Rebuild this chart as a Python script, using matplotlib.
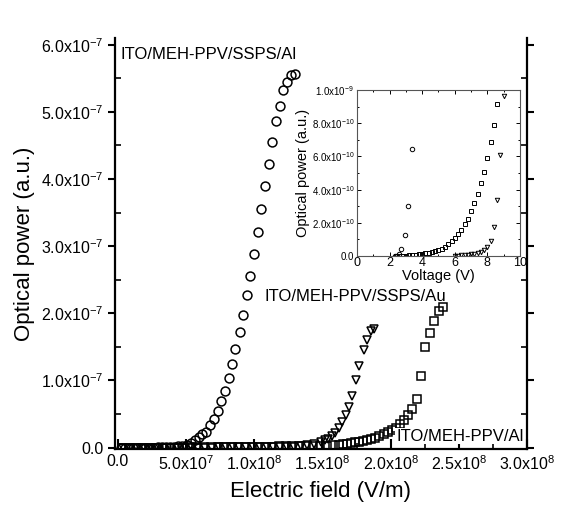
import numpy as np
import matplotlib
matplotlib.use("Agg")
import matplotlib.pyplot as plt
from matplotlib.ticker import MultipleLocator

plt.rcParams['font.family'] = ['Liberation Sans', 'DejaVu Sans']
plt.rcParams['mathtext.fontset'] = 'custom'
plt.rcParams['mathtext.rm'] = 'Liberation Sans'
plt.rcParams['mathtext.it'] = 'Liberation Sans'

# MAIN DATA: field in 1e8 V/m, power in 1e-7 a.u.
al_ssps_field = [0.02, 0.05, 0.08, 0.11, 0.14, 0.17, 0.20, 0.23, 0.26, 0.29, 0.32,
                 0.35, 0.38, 0.41, 0.44, 0.47, 0.503, 0.532, 0.564, 0.593, 0.617,
                 0.644, 0.673, 0.703, 0.732, 0.756, 0.783, 0.815, 0.837, 0.861,
                 0.893, 0.917, 0.944, 0.971, 0.998, 1.027, 1.052, 1.078, 1.105,
                 1.132, 1.161, 1.186, 1.210, 1.242, 1.271, 1.296]
al_ssps_power = [0.0, 0.0, 0.0, 0.0, 0.0, 0.0, 0.0, 0.0, 0.0, 0.005, 0.005,
                 0.005, 0.01, 0.01, 0.02, 0.03, 0.04, 0.07, 0.11, 0.16, 0.20,
                 0.24, 0.33, 0.43, 0.55, 0.69, 0.85, 1.04, 1.25, 1.47,
                 1.72, 1.98, 2.27, 2.56, 2.88, 3.21, 3.55, 3.89, 4.23,
                 4.55, 4.86, 5.09, 5.32, 5.44, 5.55, 5.56]

au_ssps_field = [0.04, 0.09, 0.14, 0.19, 0.24, 0.29, 0.34, 0.39, 0.44, 0.49, 0.54,
                 0.59, 0.64, 0.69, 0.74, 0.79, 0.84, 0.89, 0.94, 0.99, 1.04, 1.09,
                 1.14, 1.19, 1.24, 1.29, 1.34, 1.39, 1.44, 1.49, 1.515, 1.540,
                 1.569, 1.594, 1.618, 1.645, 1.669, 1.693, 1.720, 1.744, 1.771,
                 1.803, 1.828, 1.857, 1.881]
au_ssps_power = [0.0, 0.0, 0.0, 0.0, 0.0, 0.0, 0.0, 0.0, 0.0, 0.0, 0.0,
                 0.0, 0.0, 0.0, 0.005, 0.005, 0.005, 0.005, 0.005, 0.01, 0.01, 0.01,
                 0.01, 0.01, 0.01, 0.015, 0.025, 0.04, 0.06, 0.09, 0.11, 0.13,
                 0.17, 0.22, 0.29, 0.38, 0.48, 0.60, 0.77, 1.00, 1.22,
                 1.45, 1.61, 1.74, 1.77]

al_field = [0.03, 0.08, 0.13, 0.18, 0.23, 0.28, 0.33, 0.38, 0.43, 0.48, 0.53,
            0.58, 0.63, 0.68, 0.73, 0.78, 0.83, 0.88, 0.93, 0.98, 1.03, 1.08,
            1.13, 1.18, 1.23, 1.28, 1.33, 1.38, 1.43, 1.48, 1.53, 1.58, 1.62,
            1.65, 1.678, 1.708, 1.738, 1.767, 1.797, 1.828, 1.858, 1.888, 1.918,
            1.949, 1.980, 2.010, 2.041, 2.069, 2.100, 2.130, 2.157, 2.191, 2.223,
            2.255, 2.289, 2.320, 2.357, 2.386]
al_power = [0.0, 0.0, 0.0, 0.0, 0.0, 0.0, 0.0, 0.0, 0.0, 0.0, 0.005,
            0.005, 0.005, 0.005, 0.005, 0.01, 0.01, 0.01, 0.01, 0.01, 0.015, 0.015,
            0.015, 0.02, 0.02, 0.02, 0.02, 0.025, 0.025, 0.03, 0.03, 0.035, 0.04,
            0.055, 0.06, 0.07, 0.08, 0.09, 0.10, 0.12, 0.13, 0.15, 0.17,
            0.20, 0.23, 0.26, 0.30, 0.35, 0.41, 0.48, 0.58, 0.73, 1.07,
            1.50, 1.71, 1.88, 2.04, 2.09]

# INSET DATA: voltage in V, power in 1e-10 a.u.
in_al_ssps_v = [2.35, 2.45, 2.58, 2.7, 2.97, 3.15, 3.35]
in_al_ssps_p = [0.0, 0.02, 0.1, 0.45, 1.25, 3.04, 6.44]

in_al_v = [2.4, 2.6, 2.8, 3.0, 3.2, 3.4, 3.6, 3.8, 4.0, 4.2, 4.4, 4.6, 4.8, 5.0,
           5.2, 5.4, 5.6, 5.8, 6.0, 6.2, 6.4, 6.6, 6.8, 7.0, 7.2, 7.4, 7.6, 7.8,
           8.0, 8.2, 8.4, 8.6]
in_al_p = [0.0, 0.01, 0.02, 0.02, 0.04, 0.06, 0.08, 0.10, 0.12, 0.16, 0.18, 0.22,
           0.28, 0.34, 0.44, 0.56, 0.70, 0.88, 1.08, 1.31, 1.59, 1.91, 2.25, 2.71,
           3.17, 3.73, 4.38, 5.08, 5.92, 6.89, 7.91, 9.16]

in_au_v = [6.0, 6.2, 6.4, 6.6, 6.8, 7.0, 7.2, 7.4, 7.6, 7.8, 8.0, 8.2, 8.4, 8.6,
           8.8, 9.0]
in_au_p = [0.01, 0.02, 0.04, 0.06, 0.09, 0.12, 0.15, 0.20, 0.26, 0.36, 0.56, 0.92,
           1.77, 3.35, 6.08, 9.64]

xtick_vals = [0.0, 0.5, 1.0, 1.5, 2.0, 2.5, 3.0]
xtick_labels = ["0.0", "5.0x10$^{7}$", "1.0x10$^{8}$", "1.5x10$^{8}$",
                "2.0x10$^{8}$", "2.5x10$^{8}$", "3.0x10$^{8}$"]
ytick_vals = [0, 1, 2, 3, 4, 5, 6]
ytick_labels = ["0.0", "1.0x10$^{-7}$", "2.0x10$^{-7}$", "3.0x10$^{-7}$",
                "4.0x10$^{-7}$", "5.0x10$^{-7}$", "6.0x10$^{-7}$"]
in_ytick_vals = [0, 2, 4, 6, 8, 10]
in_ytick_labels = ["0.0", "2.0x10$^{-10}$", "4.0x10$^{-10}$", "6.0x10$^{-10}$",
                   "8.0x10$^{-10}$", "1.0x10$^{-9}$"]

fig = plt.figure(figsize=(5.69, 5.21), dpi=100)
ax = fig.add_axes([0.2021, 0.1382, 0.7240, 0.7889])

mk = dict(linestyle='none', markerfacecolor='none', markeredgecolor='black')
ax.plot(np.array(al_field) * 1e8, np.array(al_power) * 1e-7, marker='s',
        markersize=5.6, markeredgewidth=1.1, **mk)
ax.plot(np.array(au_ssps_field) * 1e8, np.array(au_ssps_power) * 1e-7, marker='v',
        markersize=6.4, markeredgewidth=1.1, **mk)
ax.plot(np.array(al_ssps_field) * 1e8, np.array(al_ssps_power) * 1e-7, marker='o',
        markersize=6.4, markeredgewidth=1.1, **mk)

ax.set_xlim(-0.022e8, 3.0e8)
ax.set_ylim(-0.02e-7, 6.1e-7)
ax.set_xticks(np.array(xtick_vals) * 1e8)
ax.set_xticklabels(xtick_labels)
ax.set_yticks(np.array(ytick_vals) * 1e-7)
ax.set_yticklabels(ytick_labels)
ax.xaxis.set_minor_locator(MultipleLocator(0.25e8))
ax.yaxis.set_minor_locator(MultipleLocator(0.5e-7))
ax.tick_params(axis='both', labelsize=11.5, width=1.5)
ax.tick_params(axis='x', which='major', direction='in', length=7)
ax.tick_params(axis='x', which='minor', direction='in', length=4, width=1.2)
ax.tick_params(axis='y', which='major', direction='out', length=5, right=True)
ax.tick_params(axis='y', which='minor', direction='in', length=4, width=1.2, right=True)
for side in ['left', 'bottom', 'right']:
    ax.spines[side].set_linewidth(1.6)
ax.spines['top'].set_visible(False)

ax.set_xlabel("Electric field (V/m)", fontsize=16, labelpad=6)
ax.set_ylabel("Optical power (a.u.)", fontsize=16, labelpad=4)

ax.text(0.015e8, 5.85e-7, "ITO/MEH-PPV/SSPS/Al", fontsize=12, ha='left', va='center')
ax.text(1.076e8, 2.25e-7, "ITO/MEH-PPV/SSPS/Au", fontsize=12, ha='left', va='center')
ax.text(2.04e8, 0.17e-7, "ITO/MEH-PPV/Al", fontsize=12, ha='left', va='center',
        bbox=dict(facecolor='white', edgecolor='none', pad=0.5))

# inset
ins = fig.add_axes([0.6274, 0.5086, 0.2865, 0.3186])
mk_in = dict(linestyle='none', markerfacecolor='none', markeredgecolor='black',
             markersize=3.2, markeredgewidth=0.7)
ins.plot(in_al_ssps_v, np.array(in_al_ssps_p) * 1e-10, marker='o', **mk_in)
ins.plot(in_al_v, np.array(in_al_p) * 1e-10, marker='s', **mk_in)
ins.plot(in_au_v, np.array(in_au_p) * 1e-10, marker='v', **mk_in)
ins.set_xlim(0, 10)
ins.set_ylim(0, 1e-9)
ins.set_xticks([0, 2, 4, 6, 8, 10])
ins.set_yticks(np.array(in_ytick_vals) * 1e-10)
ins.set_yticklabels(in_ytick_labels)
ins.xaxis.set_minor_locator(MultipleLocator(1))
ins.yaxis.set_minor_locator(MultipleLocator(1e-10))
ins.tick_params(axis='both', which='both', direction='in', top=True, right=True,
                width=0.7)
ins.tick_params(axis='both', which='major', length=3)
ins.tick_params(axis='both', which='minor', length=1.5)
ins.tick_params(axis='x', labelsize=9, pad=1)
ins.tick_params(axis='y', labelsize=7, pad=2)
for side in ins.spines:
    ins.spines[side].set_linewidth(0.8)
    ins.spines[side].set_color('#555555')
ins.set_xlabel("Voltage (V)", fontsize=10.5, labelpad=0)
ins.set_ylabel("Optical power (a.u.)", fontsize=10.5, labelpad=1)

fig.savefig("out.png", dpi=100)
